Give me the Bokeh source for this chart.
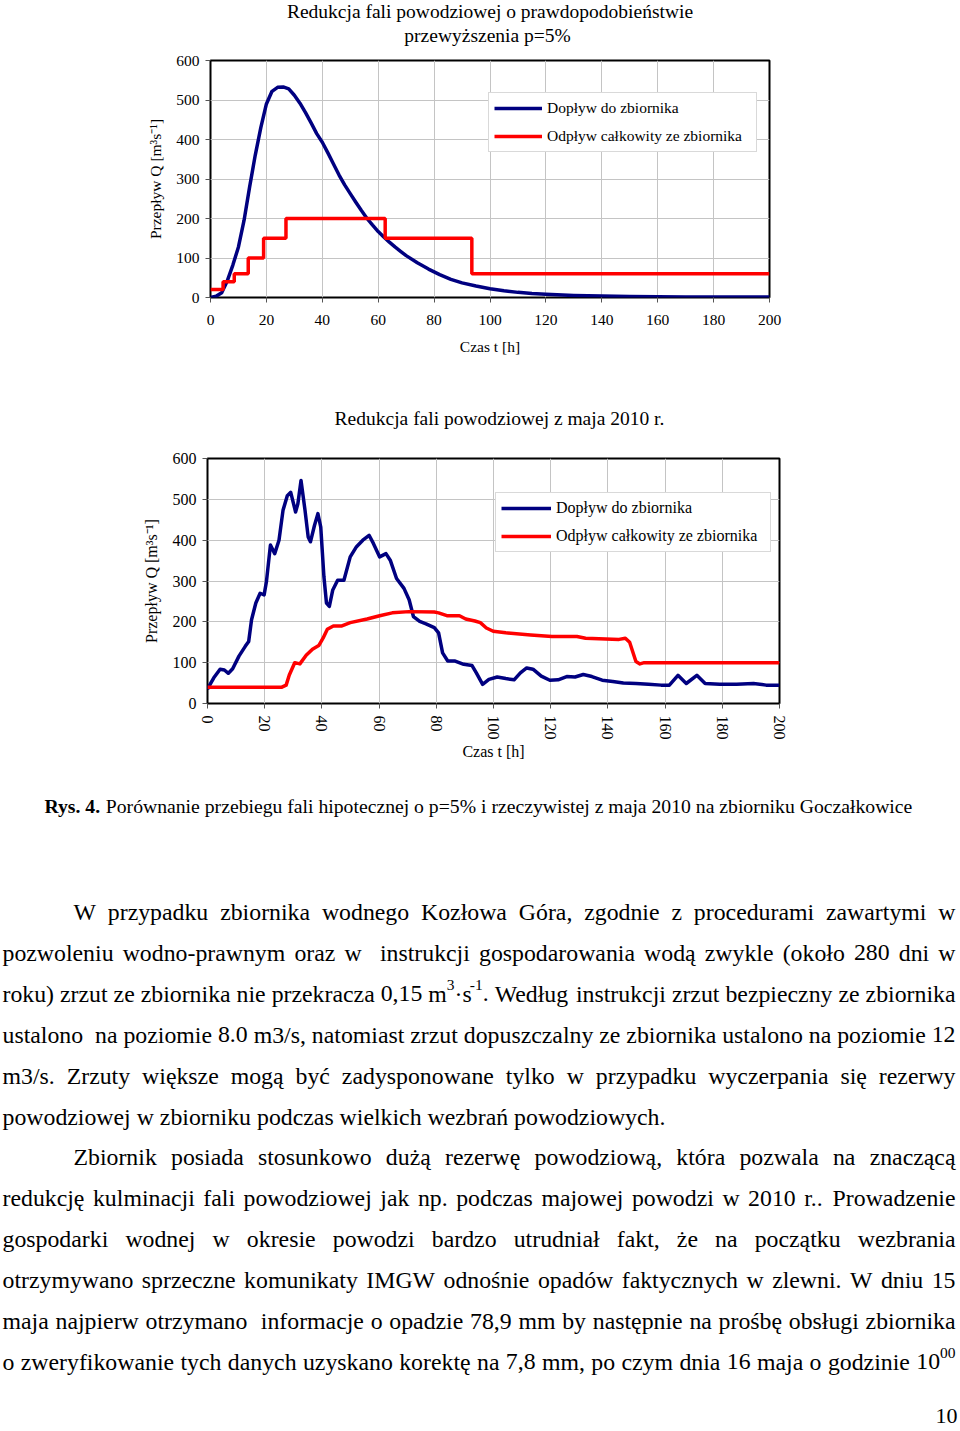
import re
from bokeh.plotting import figure
from bokeh.layouts import column
from bokeh.models import Range1d, FixedTicker, ColumnDataSource
from bokeh.core.properties import value
from bokeh.embed import file_html
from bokeh.resources import INLINE

FONT = "Liberation Serif"
BLUE = "#000080"
RED = "#ff0000"
GRID = "#c4c4c4"

# ---------------- texts ----------------
TITLE_P5 = ["Redukcja fali powodziowej o prawdopodobieństwie", "przewyższenia  p=5%"]
TITLE_2010 = "Redukcja fali powodziowej z maja 2010 r."
Y_LABEL = "Przepływ Q [m³s⁻¹]"
X_LABEL = "Czas t [h]"
LEG_IN = "Dopływ do zbiornika"
LEG_OUT = "Odpływ całkowity ze zbiornika"
X_TICKS = [0, 20, 40, 60, 80, 100, 120, 140, 160, 180, 200]
Y_TICKS = [0, 100, 200, 300, 400, 500, 600]

# ---------------- chart 1: p=5% ----------------
t_in_p5 = [0, 2, 4, 6, 8, 10, 12, 14, 16, 18, 20, 22, 24, 26, 28, 30, 32, 34, 36, 38,
           40, 42, 44, 46, 48, 50, 52, 54, 56, 58, 60, 62, 64, 66, 68, 70, 74, 78, 82, 86,
           90, 95, 100, 105, 110, 115, 120, 130, 140, 150, 160, 170, 180, 190, 200]
q_in_p5 = [0, 3, 12, 42, 82, 128, 195, 280, 360, 430, 490, 522, 532, 533, 528, 512, 492, 468, 442, 415,
           393, 366, 338, 310, 285, 263, 241, 220, 200, 183, 167, 153, 140, 128, 117, 106, 88, 72, 58, 46,
           37, 29, 22, 17, 13, 10, 8, 5, 3.5, 2.5, 2, 1.5, 1, 1, 1]
t_out_p5 = [0, 4.5, 8.5, 13.5, 19, 27, 62.5, 93.5, 200]
q_out_p5 = [20, 40, 60, 100, 150, 200, 150, 60, 60]

# ---------------- chart 2: May 2010 ----------------
t_in_2010 = [0, 1, 2.2, 4.4, 5.9, 7.3, 8.8, 11, 13.2, 14.4, 15.4, 16.9, 18.4, 19.8, 20.6, 22, 23.5, 25,
             26.4, 27.9, 29.1, 30.8, 31.6, 32.7, 34.1, 35.2, 36, 37.4, 38.6, 39.6, 40.7, 41.6, 42.6,
             43.8, 45.5, 47.7, 49.9, 52.1, 54.3, 56.5, 58, 60.2, 62.4, 63.9, 66.1, 68.7, 70.5, 72,
             74.2, 76.4, 79.3, 80.8, 82.2, 84, 86.6, 89.6, 92.5, 94, 96.2, 98.4, 101.3, 104.3, 107.2,
             109.4, 111.6, 113.8, 116.7, 119.7, 122.6, 125.6, 128.5, 131.4, 134.4, 138, 141.7, 145.4,
             149.8, 154.2, 158.6, 161.5, 164.5, 167.4, 171.1, 174, 179.1, 185, 190.9, 195.3, 200]
q_in_2010 = [35, 48, 63, 84, 82, 74, 85, 116, 140, 152, 205, 246, 270, 266, 298, 388, 367, 400,
             473, 509, 517, 469, 489, 546, 473, 408, 396, 436, 465, 432, 311, 246, 238,
             278, 302, 302, 359, 384, 400, 412, 392, 359, 367, 351, 306, 282, 254, 213,
             201, 195, 186, 173, 124, 104, 104, 96, 93, 75, 47, 59, 65, 61, 58,
             75, 87, 84, 67, 57, 58, 66, 65, 71, 66, 57, 54, 50,
             49, 47, 45, 45, 69, 49, 69, 49, 47, 47, 49, 45, 45]
t_out_2010 = [0, 26, 27.5, 28.6, 30.5, 32.3, 34.5, 36.7, 38.9, 40.4, 41.9, 44, 47, 49.9, 55.8, 60.2,
              64.6, 70.5, 79.3, 80.8, 83.7, 88.1, 90.3, 93.5, 95.4, 97.5, 99.9, 104.3, 113, 120.4,
              129.2, 132.2, 143.9, 146.1, 147.6, 149.8, 151.2, 152.7, 200]
q_out_2010 = [40, 40, 45, 70, 100, 97, 118, 133, 142, 160, 182, 190, 190, 198, 207, 215,
              222, 225, 224, 222, 215, 215, 207, 202, 198, 185, 177, 173, 168, 164,
              164, 160, 157, 160, 150, 103, 97, 100, 100]

# ---------------- page text ----------------
CAPTION_BOLD = "Rys. 4."
CAPTION_REST = "Porównanie przebiegu fali hipotecznej o p=5% i rzeczywistej z maja 2010 na zbiorniku Goczałkowice"
PARAGRAPHS = [
    (["W przypadku zbiornika wodnego Kozłowa Góra, zgodnie z procedurami zawartymi w",
      "pozwoleniu wodno-prawnym oraz w  instrukcji gospodarowania wodą zwykle (około 280 dni w",
      "roku) zrzut ze zbiornika nie przekracza 0,15 m^{3}·s^{-1}. Według instrukcji zrzut bezpieczny ze zbiornika",
      "ustalono  na poziomie 8.0 m3/s, natomiast zrzut dopuszczalny ze zbiornika ustalono na poziomie 12",
      "m3/s. Zrzuty większe mogą być zadysponowane tylko w przypadku wyczerpania się rezerwy",
      "powodziowej w zbiorniku podczas wielkich wezbrań powodziowych."], True),
    (["Zbiornik posiada stosunkowo dużą rezerwę powodziową, która pozwala na znaczącą",
      "redukcję kulminacji fali powodziowej jak np. podczas majowej powodzi w 2010 r.. Prowadzenie",
      "gospodarki wodnej w okresie powodzi bardzo utrudniał fakt, że na początku wezbrania",
      "otrzymywano sprzeczne komunikaty IMGW odnośnie opadów faktycznych w zlewni. W dniu 15",
      "maja najpierw otrzymano  informacje o opadzie 78,9 mm by następnie na prośbę obsługi zbiornika",
      "o zweryfikowanie tych danych uzyskano korektę na 7,8 mm, po czym dnia 16 maja o godzinie 10^{00}"], False),
]
PAGE_NO = "10"

PAGE_W = 958


def no_align(p):
    if "frame_align" in p.properties():
        p.frame_align = False


def text_fig(h):
    f = figure(frame_width=PAGE_W, frame_height=h, x_range=Range1d(0, PAGE_W),
               y_range=Range1d(h, 0), x_axis_type=None, y_axis_type=None, min_border=0,
               output_backend="svg", toolbar_location=None)
    no_align(f)
    f.outline_line_color = None
    f.grid.visible = False
    return f


def chart(fw, fh, bl, br, bt, bb, fs):
    p = figure(frame_width=fw, frame_height=fh, min_border_left=bl, min_border_right=br,
               min_border_top=bt, min_border_bottom=bb, x_range=Range1d(0, 200),
               y_range=Range1d(0, 600), output_backend="svg", toolbar_location=None)
    no_align(p)
    p.outline_line_color = "black"
    p.outline_line_width = 2
    p.background_fill_color = "white"
    p.border_fill_color = "white"
    p.xaxis.ticker = FixedTicker(ticks=X_TICKS)
    p.yaxis.ticker = FixedTicker(ticks=Y_TICKS)
    for ax in (p.xaxis[0], p.yaxis[0]):
        ax.axis_line_color = None
        ax.major_tick_out = 5
        ax.major_tick_in = 0
        ax.minor_tick_out = 0
        ax.minor_tick_in = 0
        ax.major_tick_line_color = "#555555"
        ax.major_label_text_font = FONT
        ax.major_label_text_font_size = fs
        ax.major_label_text_color = "black"
        ax.axis_label_text_font = FONT
        ax.axis_label_text_font_size = fs
        ax.axis_label_text_font_style = "normal"
        ax.axis_label_text_color = "black"
    p.xaxis.axis_label = X_LABEL
    p.yaxis.axis_label = Y_LABEL
    p.grid.grid_line_color = GRID
    p.grid.grid_line_width = 1
    return p


def style_legend(p, loc, fs, gw, lw):
    lg = p.legend[0]
    lg.location = loc
    lg.label_text_font = FONT
    lg.label_text_font_size = fs
    lg.label_text_color = "black"
    lg.glyph_width = gw
    lg.glyph_height = 20
    lg.label_height = 20
    lg.label_width = lw
    lg.label_standoff = 5
    lg.spacing = 8
    lg.padding = 5
    lg.margin = 0
    lg.border_line_color = "#b4b4b4"
    lg.border_line_width = 1
    lg.background_fill_color = "white"
    lg.background_fill_alpha = 1


TITLE_FS = "19.5px"
TOP_PAD = 14

# ---- title of chart 1 (page y 0..46) ----
t1 = text_fig(60 - TOP_PAD)
t1.text(x=[489.5, 489.5], y=[10.5, 35], text=TITLE_P5, text_font=value(FONT),
        text_font_size=value(TITLE_FS), text_align="center", text_baseline="middle",
        text_color="black")

# ---- chart 1 (page y 46..380) ----
p1 = chart(559, 237, 210, PAGE_W - 769, TOP_PAD, 83, "15.5px")
p1.xaxis.major_label_standoff = 12
p1.xaxis.axis_label_standoff = 10
p1.yaxis.major_label_standoff = 6
p1.yaxis.axis_label_standoff = 9
p1.line(t_in_p5, q_in_p5, color=BLUE, line_width=3.5, line_join="round", legend_label=LEG_IN)
p1.step(t_out_p5, q_out_p5, mode="after", color=RED, line_width=3.5, legend_label=LEG_OUT)
style_legend(p1, (278, 145), "15.5px", 48, 204)

# ---- title of chart 2 (page y 380..444) ----
t2 = text_fig(78 - TOP_PAD)
t2.text(x=[499], y=[38], text=[TITLE_2010], text_font=value(FONT),
        text_font_size=value(TITLE_FS), text_align="center", text_baseline="middle",
        text_color="black")

# ---- chart 2 (page y 444..775) ----
p2 = chart(572, 245, 207, PAGE_W - 779, TOP_PAD, 72, "16px")
p2.xaxis.major_label_orientation = "vertical"
p2.xaxis.major_label_standoff = 7
p2.xaxis.axis_label_standoff = 0
p2.yaxis.major_label_standoff = 6
p2.yaxis.axis_label_standoff = 10
p2.line(t_in_2010, q_in_2010, color=BLUE, line_width=3.5, line_join="round", legend_label=LEG_IN)
p2.line(t_out_2010, q_out_2010, color=RED, line_width=3.5, line_join="round", legend_label=LEG_OUT)
style_legend(p2, (288, 151), "16px", 50, 209)

# ---- text block (page y 775..1429) ----
_W = {}
for chars, w in [(" ,.·", 250), ("ijltł:;/", 278), ("frI()[]-'", 333), ("sśJ", 389),
                 ("aceząęćźż?", 444), ("bdghknopquvxyóń0123456789", 500), ("FPSŚ", 556),
                 ("=+", 564), ("ELTZŻŁ", 611), ("BCR", 667), ("ADGHKNOQUVXYwÓ", 722),
                 ("m", 778), ("%", 833), ("M", 889), ("W", 944)]:
    for ch in chars:
        _W[ch] = w
_WB = dict(_W)
_WB.update({"R": 722})


def text_w(s, fs, bold=False):
    tbl = _WB if bold else _W
    return sum(tbl.get(c, 500) for c in s) * fs / 1000.0


BODY_FS = 23.8
SUP = 0.65
CAP_FS = 19.7
TXT_H = 654
LEFT, RIGHT, INDENT = 2, 955, 73

body = {"x": [], "y": [], "t": []}
sups = {"x": [], "y": [], "t": []}


def layout_line(line, x0, x1, base, fs, justify):
    words = line.split(" ")
    segs = []
    for w in words:
        parts = [s for s in re.split(r"(\^\{[^}]*\})", w) if s]
        ws = []
        for s in parts:
            if s.startswith("^{"):
                ws.append((s[2:-1], True, text_w(s[2:-1], fs * SUP)))
            else:
                ws.append((s, False, text_w(s, fs)))
        segs.append(ws)
    widths = [sum(s[2] for s in ws) for ws in segs]
    n_gaps = len(words) - 1
    gap = text_w(" ", fs)
    if justify and n_gaps > 0:
        gap = (x1 - x0 - sum(widths)) / n_gaps
    x = x0
    for ws in segs:
        for txt, sup, w in ws:
            d = sups if sup else body
            d["x"].append(x)
            d["y"].append(base - 0.36 * fs if sup else base)
            d["t"].append(txt)
            x += w
        x += gap


line_idx = 0
for lines, ends in PARAGRAPHS:
    for i, ln in enumerate(lines):
        base = 136.5 + 40.9 * line_idx
        x0 = INDENT if i == 0 else LEFT
        last = (i == len(lines) - 1) and ends
        layout_line(ln, x0, RIGHT, base, BODY_FS, not last)
        line_idx += 1

p3 = text_fig(TXT_H)
p3.text(x="x", y="y", text="t", source=ColumnDataSource(body), text_font=value(FONT),
        text_font_size=value(f"{BODY_FS}px"), text_baseline="alphabetic", text_align="left",
        text_color="black")
p3.text(x="x", y="y", text="t", source=ColumnDataSource(sups), text_font=value(FONT),
        text_font_size=value(f"{BODY_FS * SUP:.1f}px"), text_baseline="alphabetic",
        text_align="left", text_color="black")

cap_x = 44
cap_base = 30.5
p3.text(x=[cap_x], y=[cap_base], text=[CAPTION_BOLD], text_font=value(FONT),
        text_font_size=value(f"{CAP_FS}px"), text_font_style="bold", text_baseline="alphabetic",
        text_align="left", text_color="black")
p3.text(x=[cap_x + text_w(CAPTION_BOLD + " ", CAP_FS, bold=True)], y=[cap_base], text=[CAPTION_REST],
        text_font=value(FONT), text_font_size=value(f"{CAP_FS}px"), text_baseline="alphabetic",
        text_align="left", text_color="black")
p3.text(x=[957], y=[640], text=[PAGE_NO], text_font=value(FONT), text_font_size=value("22px"),
        text_baseline="alphabetic", text_align="right", text_color="black")

page = column(t1, p1, t2, p2, p3, spacing=0)
open("out.html", "w").write(file_html(page, INLINE))
